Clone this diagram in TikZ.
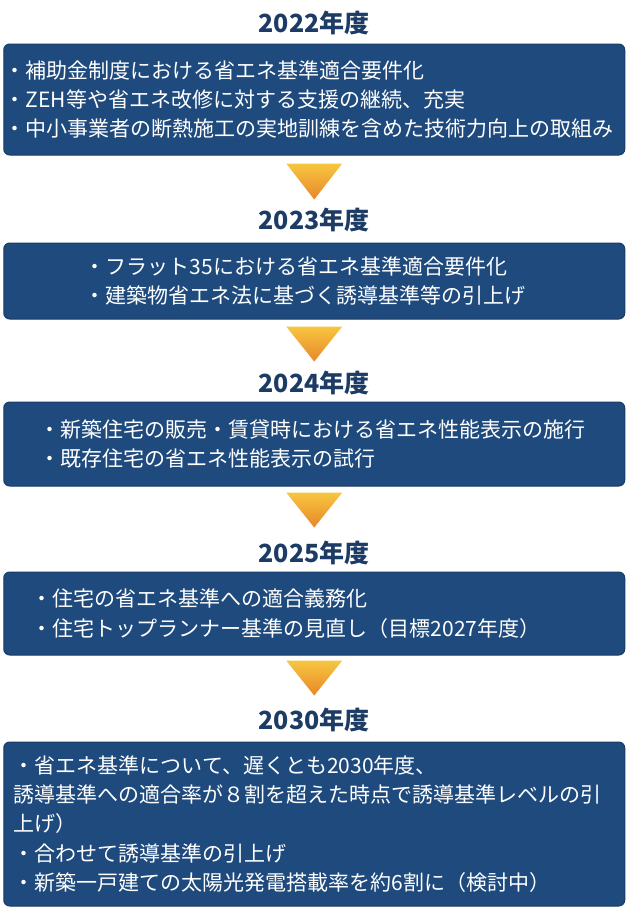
\documentclass[tikz,border=0pt]{standalone}
\usepackage{fontspec}
\setmainfont{Noto Sans CJK JP}
\usetikzlibrary{positioning}
\definecolor{navy}{HTML}{1F4A7D}
\definecolor{navyedge}{HTML}{173B66}
\definecolor{titleblue}{HTML}{1D3C65}
\definecolor{tritop}{HTML}{F7C640}
\definecolor{tribot}{HTML}{E8872A}
\tikzset{
  year/.style={font=\bfseries\fontsize{25}{30}\selectfont, text=titleblue},
  stage/.style={draw=navyedge, fill=navy, line width=1pt,
    rounded corners=6pt, minimum width=621pt},
  items/.style={font=\fontsize{21}{29.4}\selectfont, text=white,
    align=left, anchor=west, inner sep=0pt},
  downtri/.style={top color=tritop, bottom color=tribot}
}
\begin{document}
\begin{tikzpicture}[x=1pt,y=1pt]
  \useasboundingbox (0,0) rectangle (630,-919);
  % years and stages
  \node[year] (y22) at (314,-23) {2022年度};
  \node[stage, minimum height=111pt] (b22) at (314.25,-99.5) {};
  \node[items] (t22) at ([xshift=1.5pt]b22.west)
    {・補助金制度における省エネ基準適合要件化\\
     ・ZEH等や省エネ改修に対する支援の継続、充実\\
     ・中小事業者の断熱施工の実地訓練を含めた技術力向上の取組み};

  \node[year] (y23) at (314,-220) {2023年度};
  \node[stage, minimum height=76pt] (b23) at (314.25,-281) {};
  \node[items] (t23) at ([xshift=81.5pt]b23.west)
    {・フラット35における省エネ基準適合要件化\\
     ・建築物省エネ法に基づく誘導基準等の引上げ};

  \node[year] (y24) at (314,-383) {2024年度};
  \node[stage, minimum height=84pt] (b24) at (314.25,-444) {};
  \node[items] (t24) at ([xshift=36.5pt]b24.west)
    {・新築住宅の販売・賃貸時における省エネ性能表示の施行\\
     ・既存住宅の省エネ性能表示の試行};

  \node[year] (y25) at (314,-553) {2025年度};
  \node[stage, minimum height=83pt] (b25) at (314.25,-613.5) {};
  \node[items] (t25) at ([xshift=28.5pt]b25.west)
    {・住宅の省エネ基準への適合義務化\\
     ・住宅トップランナー基準の見直し（目標2027年度）};

  \node[year] (y30) at (314,-720) {2030年度};
  \node[stage, minimum height=164pt] (b30) at (314.25,-824) {};
  \node[items] (t30) at ([xshift=10.5pt]b30.west)
    {・省エネ基準について、遅くとも2030年度、\\
     誘導基準への適合率が８割を超えた時点で誘導基準レベルの引\\
     上げ）\\
     ・合わせて誘導基準の引上げ\\
     ・新築一戸建ての太陽光発電搭載率を約6割に（検討中）};

  % arrows between stages
  \foreach \b/\s/\d in {b22/8/44, b23/7/42, b24/6/41, b25/5/40}
    \shade[downtri] ([xshift=-28pt,yshift=-\s pt]\b.south)
      -- ([xshift=28pt,yshift=-\s pt]\b.south)
      -- ([yshift=-\d pt]\b.south) -- cycle;
\end{tikzpicture}
\end{document}
